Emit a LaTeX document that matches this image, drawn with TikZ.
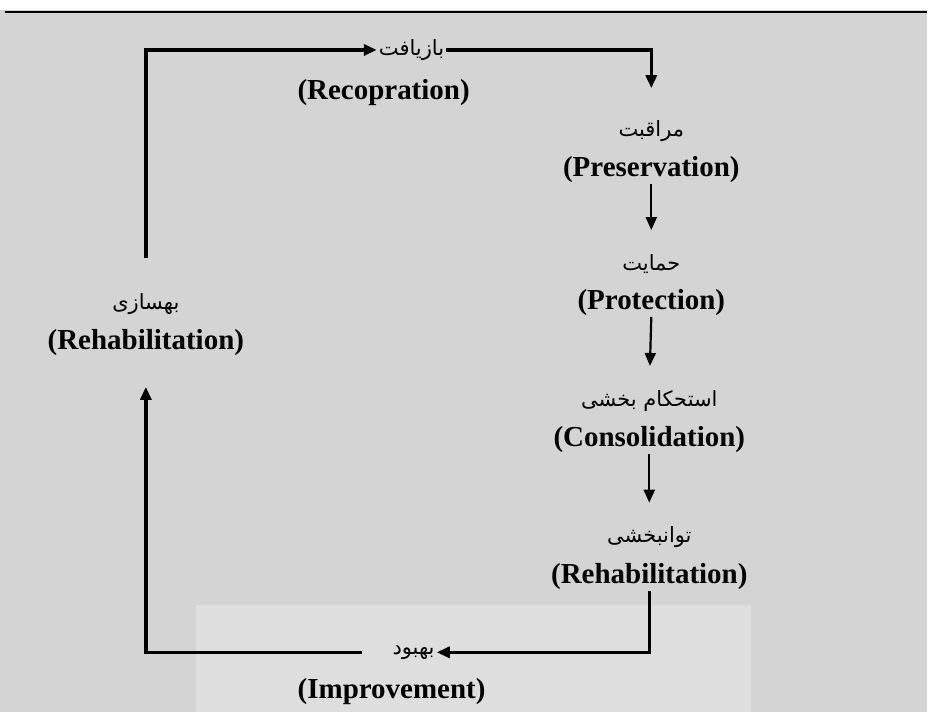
\documentclass[tikz,border=0pt]{standalone}
\usepackage{fontspec}
\setmainfont{Liberation Serif}
\newfontfamily\latinfont{Liberation Serif}
\newfontfamily\arabicfont[Script=Arabic]{DejaVu Sans}
\TeXXeTstate=1
\usetikzlibrary{positioning,arrows.meta}

\definecolor{pagegrey}{RGB}{212,212,212}
\definecolor{markgrey}{RGB}{222,222,222}

\begin{document}
\begin{tikzpicture}[x=1pt, y=-1pt, node distance=39pt,
    en/.style={font=\latinfont\bfseries\fontsize{29}{32}\selectfont, inner sep=1pt},
    fa/.style={font=\arabicfont\fontsize{21}{25}\selectfont, inner sep=2pt},
    tip/.style={-{Triangle[length=13pt,width=11pt]}},
    loopline/.style={line width=3.5pt, tip},
    flow/.style={line width=2.2pt, tip, shorten >=22pt}]

        % page
        \fill[white] (0,0) rectangle (928,713);
        \fill[pagegrey] (0,10) rectangle (928,713);
        \fill[markgrey] (196,606) rectangle (752,713);
        \draw[line width=2pt] (5,12) -- (928,12);
        \useasboundingbox (0,0) rectangle (928,713);

        \node[fa] (recfa) at (412,50) {\beginR بازیافت\endR};
        \node[en] (recen) at (384,93) {(Recopration)};

        \node[fa] (prefa) at (652,131) {\beginR مراقبت\endR};
        \node[en] (preen) [below of=prefa] {(Preservation)};

        \node[fa] (protfa) at (652,264) {\beginR حمایت\endR};
        \node[en] (proten) [below of=protfa] {(Protection)};

        \node[fa] (consfa) at (650,401) {\beginR استحکام بخشی\endR};
        \node[en] (consen) [below of=consfa] {(Consolidation)};

        \node[fa] (rehRfa) at (650,538) {\beginR توانبخشی\endR};
        \node[en] (rehRen) [below of=rehRfa] {(Rehabilitation)};

        \node[fa] (impfa) at (414,653) {\beginR بهبود\endR};
        \node[en] (impen) [below of=impfa, xshift=-22pt] {(Improvement)};

        \node[fa] (rehLfa) at (146,304) {\beginR بهسازی\endR};
        \node[en] (rehLen) [below of=rehLfa] {(Rehabilitation)};

        \coordinate (upstart) at (146,258);

        % Edges
        \draw[loopline] (upstart) |- (recfa.west);
        \draw[loopline, shorten >=30pt] (recfa.east) -| (prefa.north);
        \draw[flow] (preen.south) -- (protfa.north);
        \draw[flow] (proten.south) -- (consfa.north);
        \draw[flow] (consen.south) -- (rehRfa.north);
        \draw[loopline] (rehRen.south) |- (impfa.east);
        \draw[loopline, shorten <=28pt, shorten >=30pt] (impfa.west) -| (rehLen.south);
    \end{tikzpicture}
\end{document}
